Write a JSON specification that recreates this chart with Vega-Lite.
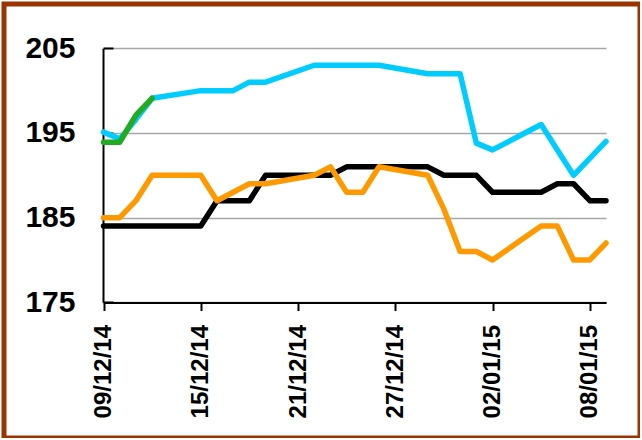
{
  "$schema": "https://vega.github.io/schema/vega-lite/v6.json",
  "width": 636,
  "height": 434,
  "autosize": {"type": "none"},
  "padding": {"left": 4, "top": 4, "right": 0, "bottom": 0},
  "background": "white",
  "config": {
    "view": {"stroke": "#993300", "strokeWidth": 5},
    "font": "Liberation Sans"
  },
  "data": {
    "values": [
      {"s": "black", "d": "2014-12-09", "v": 184},
      {"s": "black", "d": "2014-12-10", "v": 184},
      {"s": "black", "d": "2014-12-11", "v": 184},
      {"s": "black", "d": "2014-12-12", "v": 184},
      {"s": "black", "d": "2014-12-15", "v": 184},
      {"s": "black", "d": "2014-12-16", "v": 187},
      {"s": "black", "d": "2014-12-17", "v": 187},
      {"s": "black", "d": "2014-12-18", "v": 187},
      {"s": "black", "d": "2014-12-19", "v": 190},
      {"s": "black", "d": "2014-12-22", "v": 190},
      {"s": "black", "d": "2014-12-23", "v": 190},
      {"s": "black", "d": "2014-12-24", "v": 191},
      {"s": "black", "d": "2014-12-25", "v": 191},
      {"s": "black", "d": "2014-12-26", "v": 191},
      {"s": "black", "d": "2014-12-29", "v": 191},
      {"s": "black", "d": "2014-12-30", "v": 190},
      {"s": "black", "d": "2014-12-31", "v": 190},
      {"s": "black", "d": "2015-01-01", "v": 190},
      {"s": "black", "d": "2015-01-02", "v": 188},
      {"s": "black", "d": "2015-01-05", "v": 188},
      {"s": "black", "d": "2015-01-06", "v": 189},
      {"s": "black", "d": "2015-01-07", "v": 189},
      {"s": "black", "d": "2015-01-08", "v": 187},
      {"s": "black", "d": "2015-01-09", "v": 187},
      {"s": "orange", "d": "2014-12-09", "v": 185},
      {"s": "orange", "d": "2014-12-10", "v": 185},
      {"s": "orange", "d": "2014-12-11", "v": 187},
      {"s": "orange", "d": "2014-12-12", "v": 190},
      {"s": "orange", "d": "2014-12-15", "v": 190},
      {"s": "orange", "d": "2014-12-16", "v": 187},
      {"s": "orange", "d": "2014-12-17", "v": 188},
      {"s": "orange", "d": "2014-12-18", "v": 189},
      {"s": "orange", "d": "2014-12-19", "v": 189},
      {"s": "orange", "d": "2014-12-22", "v": 190},
      {"s": "orange", "d": "2014-12-23", "v": 191},
      {"s": "orange", "d": "2014-12-24", "v": 188},
      {"s": "orange", "d": "2014-12-25", "v": 188},
      {"s": "orange", "d": "2014-12-26", "v": 191},
      {"s": "orange", "d": "2014-12-29", "v": 190},
      {"s": "orange", "d": "2014-12-30", "v": 186},
      {"s": "orange", "d": "2014-12-31", "v": 181},
      {"s": "orange", "d": "2015-01-01", "v": 181},
      {"s": "orange", "d": "2015-01-02", "v": 180},
      {"s": "orange", "d": "2015-01-05", "v": 184},
      {"s": "orange", "d": "2015-01-06", "v": 184},
      {"s": "orange", "d": "2015-01-07", "v": 180},
      {"s": "orange", "d": "2015-01-08", "v": 180},
      {"s": "orange", "d": "2015-01-09", "v": 182},
      {"s": "blue", "d": "2014-12-09", "v": 195.1},
      {"s": "blue", "d": "2014-12-10", "v": 194.3},
      {"s": "blue", "d": "2014-12-11", "v": 196.6},
      {"s": "blue", "d": "2014-12-12", "v": 199.1},
      {"s": "blue", "d": "2014-12-15", "v": 200},
      {"s": "blue", "d": "2014-12-16", "v": 200},
      {"s": "blue", "d": "2014-12-17", "v": 200},
      {"s": "blue", "d": "2014-12-18", "v": 201},
      {"s": "blue", "d": "2014-12-19", "v": 201},
      {"s": "blue", "d": "2014-12-22", "v": 203},
      {"s": "blue", "d": "2014-12-23", "v": 203},
      {"s": "blue", "d": "2014-12-24", "v": 203},
      {"s": "blue", "d": "2014-12-25", "v": 203},
      {"s": "blue", "d": "2014-12-26", "v": 203},
      {"s": "blue", "d": "2014-12-29", "v": 202},
      {"s": "blue", "d": "2014-12-30", "v": 202},
      {"s": "blue", "d": "2014-12-31", "v": 202},
      {"s": "blue", "d": "2015-01-01", "v": 193.8},
      {"s": "blue", "d": "2015-01-02", "v": 193},
      {"s": "blue", "d": "2015-01-05", "v": 196},
      {"s": "blue", "d": "2015-01-06", "v": 193},
      {"s": "blue", "d": "2015-01-07", "v": 190},
      {"s": "blue", "d": "2015-01-08", "v": 192},
      {"s": "blue", "d": "2015-01-09", "v": 194},
      {"s": "green", "d": "2014-12-09", "v": 193.9},
      {"s": "green", "d": "2014-12-10", "v": 193.9},
      {"s": "green", "d": "2014-12-11", "v": 197.1},
      {"s": "green", "d": "2014-12-12", "v": 199.1}
    ]
  },
  "mark": {"type": "line", "strokeWidth": 5.5, "strokeCap": "round", "strokeJoin": "round"},
  "encoding": {
    "x": {
      "field": "d",
      "type": "temporal",
      "scale": {
        "type": "utc",
        "domain": [
          {"year": 2014, "month": 12, "date": 9, "utc": true},
          {"year": 2015, "month": 1, "date": 9, "utc": true}
        ],
        "range": [99.5, 602]
      },
      "axis": {
        "title": null,
        "offset": -135.5,
        "grid": false,
        "values": [
          {"year": 2014, "month": 12, "date": 9, "utc": true},
          {"year": 2014, "month": 12, "date": 15, "utc": true},
          {"year": 2014, "month": 12, "date": 21, "utc": true},
          {"year": 2014, "month": 12, "date": 27, "utc": true},
          {"year": 2015, "month": 1, "date": 2, "utc": true},
          {"year": 2015, "month": 1, "date": 8, "utc": true}
        ],
        "format": "%d/%m/%y",
        "labelAngle": 270,
        "labelFontSize": 24,
        "labelFontWeight": "bold",
        "labelColor": "black",
        "labelPadding": 14,
        "tickSize": 8,
        "tickWidth": 2,
        "tickColor": "black",
        "domainColor": "black",
        "domainWidth": 2,
        "labelFlush": false,
        "labelOverlap": false
      }
    },
    "y": {
      "field": "v",
      "type": "quantitative",
      "scale": {"domain": [175, 205], "range": [298.3, 44.3], "zero": false, "nice": false},
      "axis": {
        "title": null,
        "offset": -99,
        "values": [175, 185, 195, 205],
        "grid": true,
        "gridColor": "#A6A6A6",
        "gridWidth": 1.5,
        "labelFontSize": 30,
        "labelFontWeight": "bold",
        "labelColor": "black",
        "tickSize": -10,
        "labelPadding": 38,
        "tickWidth": 2,
        "tickColor": "black",
        "domainColor": "black",
        "domainWidth": 2,
        "labelFlush": false,
        "labelOverlap": false
      }
    },
    "color": {
      "field": "s",
      "type": "nominal",
      "sort": ["black", "orange", "blue", "green"],
      "scale": {"domain": ["black", "orange", "blue", "green"], "range": ["#000000", "#FF9900", "#00CCFF", "#22AA22"]},
      "legend": null
    }
  }
}
